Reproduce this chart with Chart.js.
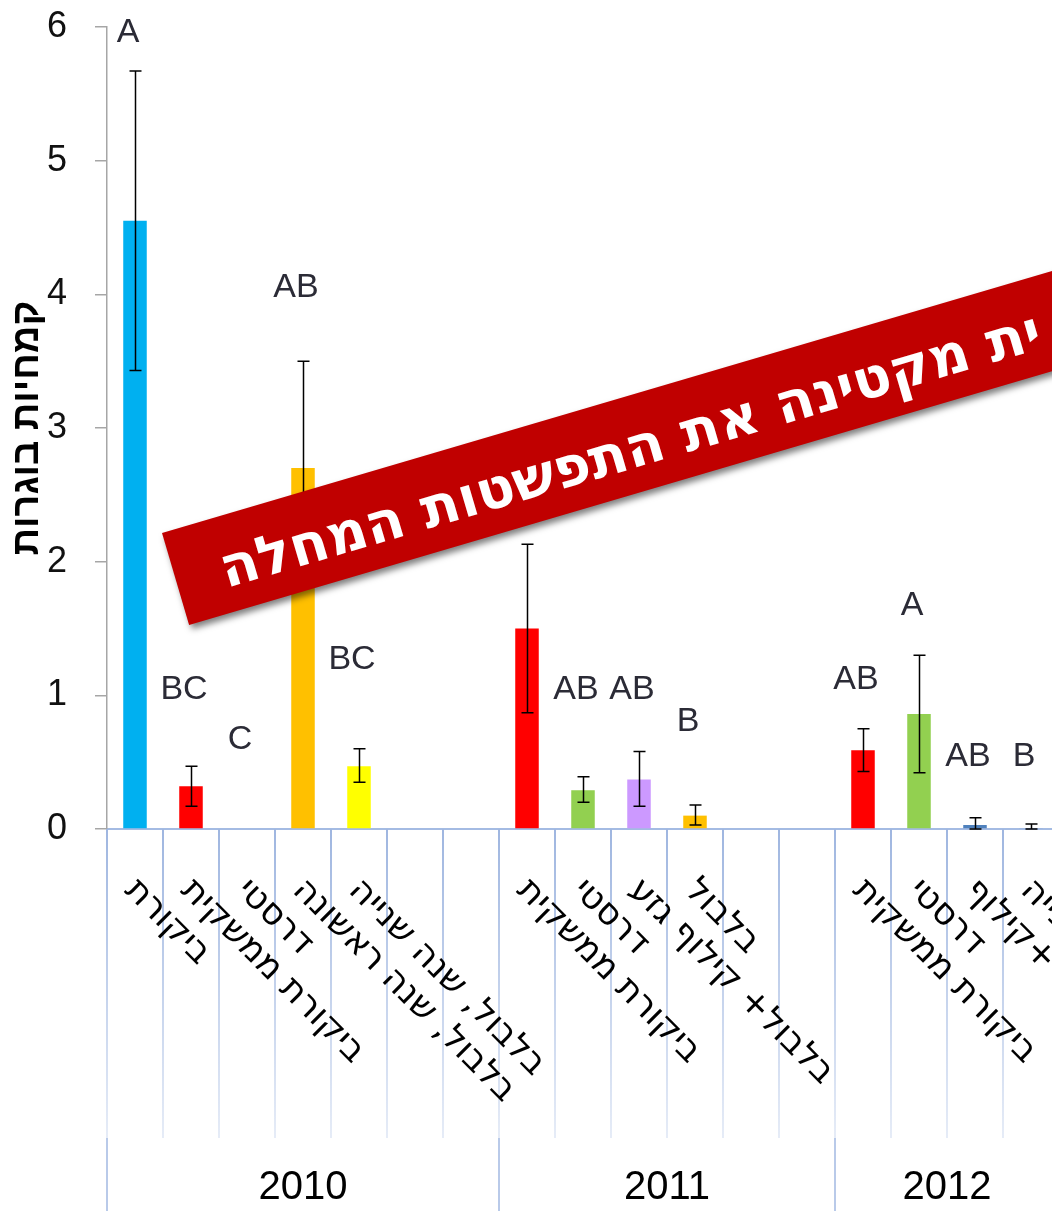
<!DOCTYPE html>
<html lang="he">
<head>
<meta charset="utf-8">
<script src="https://cdn.jsdelivr.net/npm/chart.js@4.4.1/dist/chart.umd.min.js"></script>
<style>
  html, body { margin: 0; padding: 0; background: #fff; overflow: hidden; }
  #wrap { width: 1080px; height: 1211px; }
</style>
</head>
<body>
<div id="wrap"><canvas id="chart" width="1080" height="1211"></canvas></div>
<script>
// שנים ומספר הטיפולים בכל שנה
const years = ['2010', '2011', '2012'];
const yearSizes = [7, 6, 4];

// טיפולים (קטגוריות)
const categories = [
    'ביקורת', 'ביקורת ממשקית', 'דרסטי', 'בלבול, שנה ראשונה', 'בלבול, שנה שנייה', '', '',
    'ביקורת ממשקית', 'דרסטי', 'בלבול+ קילוף גזע', 'בלבול', '', '',
    'ביקורת ממשקית', 'דרסטי', 'בלבול +קילוף', 'בלבול, שנה שנייה'
];

// ממוצעים ושגיאות
const values  = [4.55, 0.32, 0, 2.70, 0.47, null, null, 1.50, 0.29, 0.37, 0.10, null, null, 0.59, 0.86, 0.03, 0.005];
const errHigh = [5.67, 0.47, null, 3.50, 0.60, null, null, 2.13, 0.39, 0.58, 0.18, null, null, 0.75, 1.30, 0.085, 0.037];
const errLow  = [3.43, 0.17, null, 1.90, 0.35, null, null, 0.87, 0.20, 0.17, 0.03, null, null, 0.43, 0.42, 0.0, 0.0];

// אותיות מובהקות
const letters = ['A', 'BC', 'C', 'AB', 'BC', '', '', '', 'AB', 'AB', 'B', '', '', 'AB', 'A', 'AB', 'B'];
const letterY = [5.96, 1.04, 0.67, 4.05, 1.27, null, null, null, 1.04, 1.04, 0.80, null, null, 1.12, 1.67, 0.54, 0.54];

const barColors = [
    '#00B0F0', '#FF0000', '#FFFFFF', '#FFC000', '#FFFF00', '#FFFFFF', '#FFFFFF',
    '#FF0000', '#92D050', '#CC99FF', '#FFC000', '#FFFFFF', '#FFFFFF',
    '#FF0000', '#92D050', '#4F81BD', '#4F81BD'
];

const yTitle = 'קמחיות בוגרות';
const bannerText = 'ית מקטינה את התפשטות המחלה';

const FONT = '"Liberation Sans", Arial, sans-serif';
const HEB_FONT = '"DejaVu Sans", sans-serif';

// קווי שגיאה ואותיות
const errorBars = {
    id: 'errorBars',
    afterDatasetsDraw(chart) {
        const {ctx, scales: {x, y}} = chart;
        ctx.save();
        ctx.strokeStyle = '#000';
        ctx.lineWidth = 1.5;
        errHigh.forEach((hi, i) => {
            if (hi == null) return;
            const px = Math.round(x.getPixelForValue(i)) + 0.5;
            const top = y.getPixelForValue(hi);
            const bot = y.getPixelForValue(errLow[i]);
            ctx.beginPath();
            ctx.moveTo(px, top); ctx.lineTo(px, bot);
            ctx.moveTo(px - 6, top); ctx.lineTo(px + 6, top);
            ctx.moveTo(px - 6, bot); ctx.lineTo(px + 6, bot);
            ctx.stroke();
        });
        ctx.fillStyle = '#2B2B36';
        ctx.font = '34px ' + FONT;
        ctx.textAlign = 'center';
        ctx.textBaseline = 'middle';
        letters.forEach((t, i) => {
            if (!t) return;
            ctx.fillText(t, x.getPixelForValue(i) - 7, y.getPixelForValue(letterY[i]));
        });
        ctx.restore();
    }
};

// ציר קטגוריות דו-שכבתי + באנר
const axisAndBanner = {
    id: 'axisAndBanner',
    afterDraw(chart) {
        const {ctx, scales: {x}} = chart;
        const base = x.top;
        ctx.save();

        // קווי הפרדה
        const grad = ctx.createLinearGradient(0, base, 0, 1138);
        grad.addColorStop(0, '#9FB6E0');
        grad.addColorStop(1, '#E6ECF7');
        ctx.lineWidth = 2;
        for (let i = 0; i <= categories.length; i++) {
            const px = x.getPixelForValue(i - 0.5);
            ctx.strokeStyle = grad;
            ctx.beginPath();
            ctx.moveTo(px, base); ctx.lineTo(px, 1138);
            ctx.stroke();
        }
        let start = 0;
        const bounds = [0];
        yearSizes.forEach(n => { start += n; bounds.push(start); });
        ctx.strokeStyle = '#B9CAE9';
        bounds.forEach(b => {
            const px = x.getPixelForValue(b - 0.5);
            ctx.beginPath();
            ctx.moveTo(px, 1138); ctx.lineTo(px, 1211);
            ctx.stroke();
        });

        // תוויות טיפולים
        ctx.fillStyle = '#000';
        ctx.font = '35px ' + HEB_FONT;
        ctx.direction = 'rtl';
        ctx.textAlign = 'left';
        ctx.textBaseline = 'middle';
        categories.forEach((c, i) => {
            if (!c) return;
            ctx.save();
            ctx.translate(x.getPixelForValue(i) - 5, base + 56);
            ctx.rotate(Math.PI / 4);
            ctx.fillText(c, 0, 0);
            ctx.restore();
        });

        // שנים
        ctx.direction = 'ltr';
        ctx.textAlign = 'center';
        ctx.font = '40px ' + FONT;
        years.forEach((yr, k) => {
            const a = x.getPixelForValue(bounds[k] - 0.5);
            const b = x.getPixelForValue(bounds[k + 1] - 0.5);
            ctx.fillText(yr, (a + b) / 2, 1188);
        });

        // באנר
        ctx.translate(162, 533);
        ctx.rotate(-16.4 * Math.PI / 180);
        ctx.shadowColor = 'rgba(0,0,0,0.5)';
        ctx.shadowBlur = 6;
        ctx.shadowOffsetX = 3;
        ctx.shadowOffsetY = 4;
        ctx.fillStyle = '#C00000';
        ctx.fillRect(0, 0, 1100, 96);
        ctx.shadowColor = 'transparent';
        ctx.fillStyle = '#FFFFFF';
        ctx.direction = 'rtl';
        ctx.textAlign = 'left';
        ctx.textBaseline = 'alphabetic';
        ctx.font = 'bold 46px ' + HEB_FONT;
        const w = ctx.measureText(bannerText).width;
        const size = Math.min(56, 46 * 880 / w);
        ctx.font = 'bold ' + size.toFixed(1) + 'px ' + HEB_FONT;
        ctx.fillText(bannerText, 46, 71);
        ctx.restore();
    }
};

new Chart(document.getElementById('chart'), {
    type: 'bar',
    data: {
        labels: categories,
        datasets: [{
            data: values,
            backgroundColor: barColors,
            barPercentage: 0.42,
            categoryPercentage: 1
        }]
    },
    options: {
        responsive: false,
        animation: false,
        layout: { padding: { top: 27, right: 21, left: 0, bottom: 0 } },
        plugins: { legend: { display: false }, tooltip: { enabled: false } },
        scales: {
            x: {
                grid: { display: false },
                border: { color: '#A4BBE3', width: 2 },
                ticks: { display: false },
                afterFit: s => { s.height = 382; }
            },
            y: {
                min: 0,
                max: 6,
                ticks: { stepSize: 1, padding: 28, color: '#111', font: { size: 36, family: FONT } },
                grid: { drawOnChartArea: false, drawTicks: true, tickLength: 12, color: '#A6A6A6', lineWidth: 1.5 },
                border: { color: '#A6A6A6', width: 1.5 },
                title: {
                    display: true,
                    text: yTitle,
                    color: '#000',
                    font: { size: 38, weight: 'bold', family: FONT },
                    padding: { top: 5, bottom: 0 }
                },
                afterFit: s => { s.width = 107; s.paddingTop = 0; s.paddingBottom = 0; }
            }
        }
    },
    plugins: [errorBars, axisAndBanner]
});
</script>
</body>
</html>
